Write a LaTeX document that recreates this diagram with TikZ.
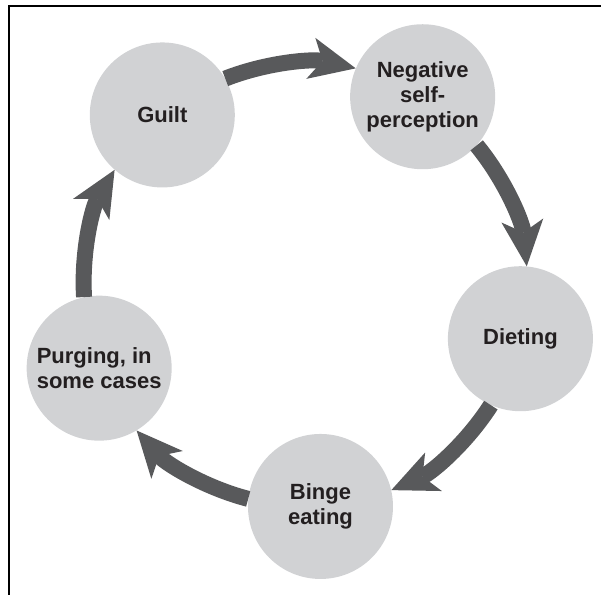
\documentclass[tikz,border=0pt]{standalone}
\usepackage{fontspec}
\setmainfont{Liberation Sans}
\usetikzlibrary{arrows.meta}
\definecolor{stagegray}{RGB}{209,210,212}
\definecolor{flowgray}{RGB}{88,89,91}
\definecolor{textblack}{RGB}{35,31,32}
\begin{document}
\begin{tikzpicture}[x=1pt, y=1pt,
  stage/.style={circle, fill=stagegray, minimum size=145pt, inner sep=0pt,
    align=center, text=textblack, font=\fontsize{22}{25}\selectfont\bfseries},
  flow/.style={draw=flowgray, line width=16pt,
    -{Stealth[length=46pt, width=42pt, inset=12pt, line width=0pt]},
    bend left=17, looseness=0.87}]
\useasboundingbox (0,0) rectangle (601,-595);
% frame: top and left edges only
\draw[line width=2pt] (601,-6) -- (9,-6) -- (9,-595);
\begin{scope}[shift={(305,-285)}]
\node[stage] (guilt) at (130:222) {Guilt};
\node[stage] (neg) at (58:222) {Negative\\self-\\perception};
\node[stage] (diet) at (-14:222) {Dieting};
\node[stage] (binge) at (-86:222) {Binge\\eating};
\node[stage, align=left] (purge) at (-158:222) {Purging, in\\some cases};
\end{scope}
\draw[flow] (guilt.30.6) to (neg.157.4);
\draw[flow] (neg.318.6) to (diet.85.4);
\draw[flow] (diet.246.6) to (binge.13.4);
\draw[flow] (binge.174.6) to (purge.301.4);
\draw[flow] (purge.102.6) to (guilt.229.4);
\end{tikzpicture}
\end{document}
